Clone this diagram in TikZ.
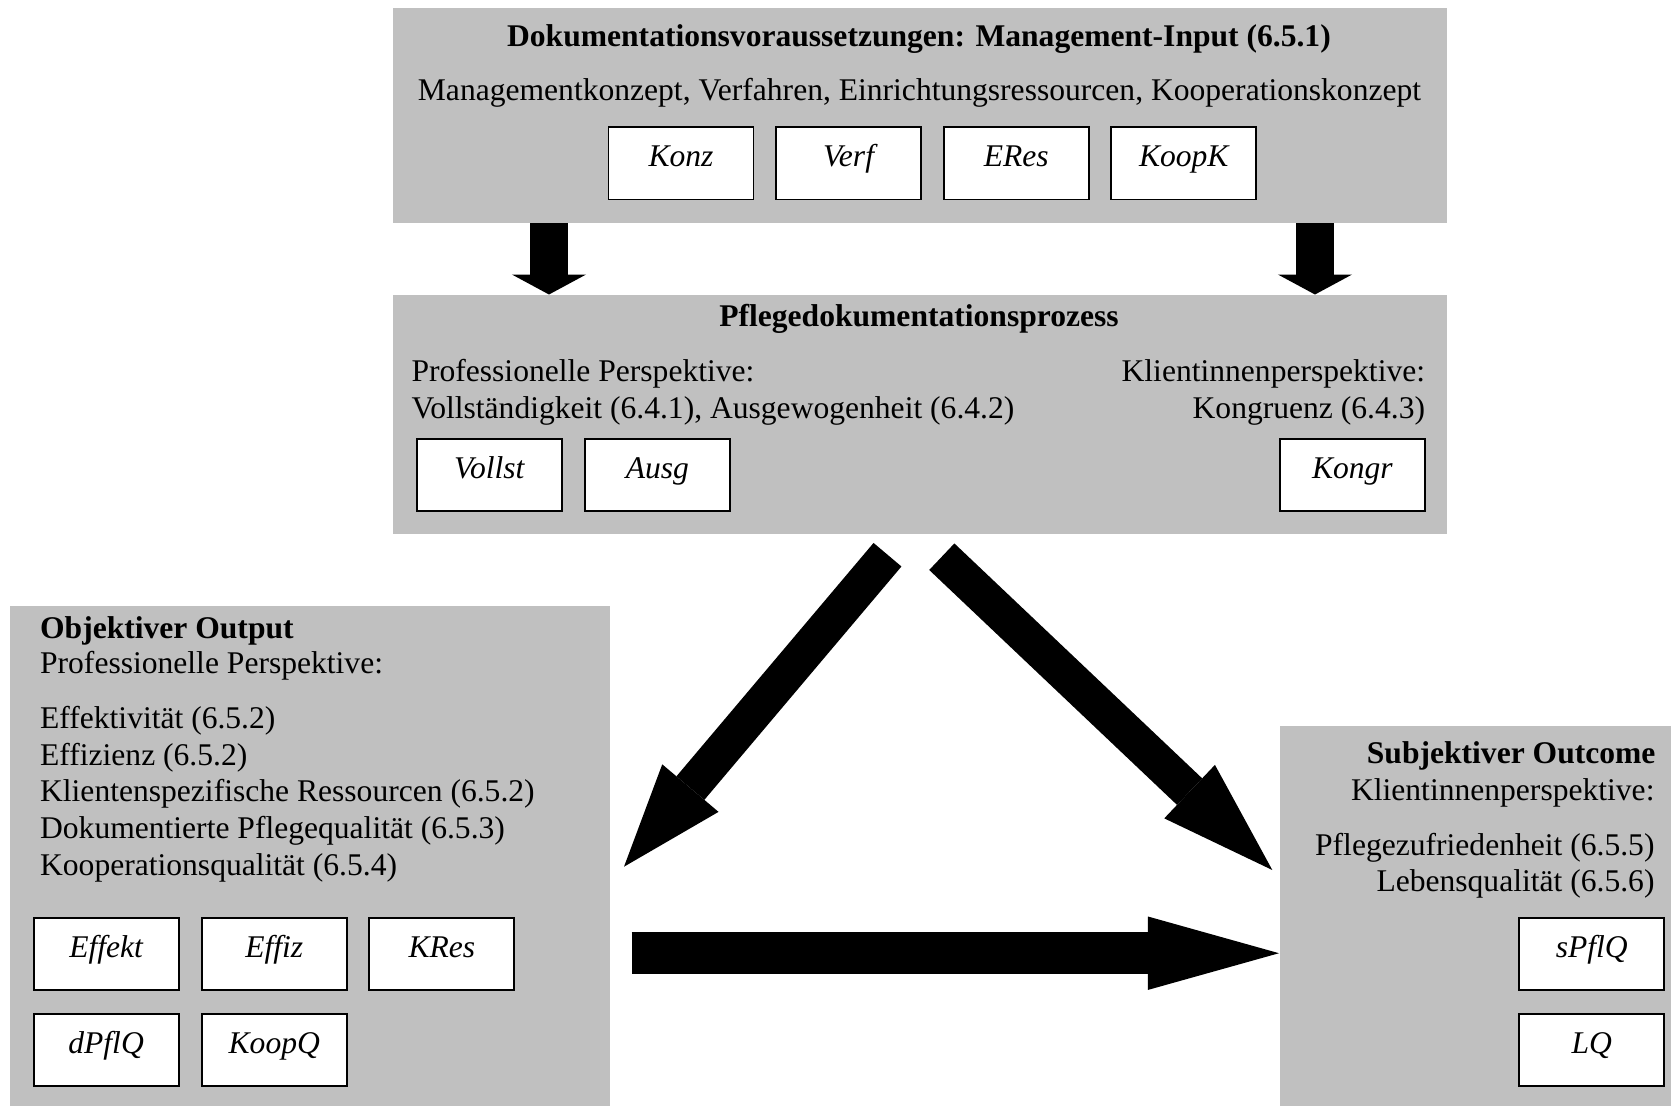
\documentclass[tikz,border=0pt]{standalone}
\usepackage{fontspec}
\setmainfont{Liberation Serif}
\usetikzlibrary{arrows.meta}
\definecolor{panelgray}{RGB}{192,192,192}
% one drawing unit in points
\newcommand\pxu{0.38pt}
\newcommand\basefont{\fontsize{12pt}{13.8pt}\selectfont}

\begin{document}
\begin{tikzpicture}[x=0.38pt, y=-0.38pt,
  panel/.style={fill=panelgray, draw=none, anchor=north west, inner sep=0pt},
  tag/.style={draw=black, fill=white, line width=0.75pt, anchor=north west,
    minimum width=145*\pxu, minimum height=72.5*\pxu, inner sep=0pt,
    text height=8.5pt, text depth=6pt, font=\basefont\itshape},
  heading/.style={inner sep=0pt, font=\basefont\bfseries},
  plain/.style={inner sep=0pt, font=\basefont},
  fatarrow/.style n args={3}{line width=#1, draw=black,
    -{Triangle[length=#2, width=#3, line width=0pt]}}
]
\useasboundingbox (0,0) rectangle (1671,1105);

% ---- management input ----
\node[panel, minimum width=1054*\pxu, minimum height=214.8*\pxu] (input) at (392,7.5) {};
\node[heading, anchor=base] (inputtitle) at (919,46.7)
  {Dokumentationsvoraussetzungen: Management-Input (6.5.1)};
\node[plain, anchor=base] (inputlist) at (919.5,100)
  {Managementkonzept, Verfahren, Einrichtungsressourcen, Kooperationskonzept};
\node[tag] (konz)  at (607.5,126) {Konz};
\node[tag] (verf)  at (775.1,126) {Verf};
\node[tag] (eres)  at (942.7,126) {ERes};
\node[tag] (koopk) at (1110.3,126) {KoopK};

% ---- documentation process ----
\node[panel, minimum width=1054*\pxu, minimum height=238.8*\pxu] (process) at (392,294.5) {};
\node[heading, anchor=base] (processtitle) at (919,326.7) {Pflegedokumentationsprozess};
\node[plain, anchor=base west] (procprof) at (411,381.7) {Professionelle Perspektive:};
\node[plain, anchor=base west] (procproflist) at (411,418.3)
  {Vollständigkeit (6.4.1), Ausgewogenheit (6.4.2)};
\node[plain, anchor=base east] (procclient) at (1425.6,381.7) {Klientinnenperspektive:};
\node[plain, anchor=base east] (procclientlist) at (1425.6,418.3) {Kongruenz (6.4.3)};
\node[tag] (vollst) at (415.8,437.7) {Vollst};
\node[tag] (ausg)   at (583.9,437.7) {Ausg};
\node[tag] (kongr)  at (1278.9,437.7) {Kongr};

% ---- objective output ----
\node[panel, minimum width=600*\pxu, minimum height=500*\pxu] (output) at (9,605) {};
\node[heading, anchor=base west] (outputtitle) at (39.6,638.3) {Objektiver Output};
\node[plain, anchor=base west] (outputprof) at (39.6,673.3) {Professionelle Perspektive:};
\node[plain, anchor=base west] (outa) at (39.6,728.3) {Effektivität (6.5.2)};
\node[plain, anchor=base west] (outb) at (39.6,765.0) {Effizienz (6.5.2)};
\node[plain, anchor=base west] (outc) at (39.6,801.7) {Klientenspezifische Ressourcen (6.5.2)};
\node[plain, anchor=base west] (outd) at (39.6,838.3) {Dokumentierte Pflegequalität (6.5.3)};
\node[plain, anchor=base west] (oute) at (39.6,875.0) {Kooperationsqualität (6.5.4)};
\node[tag] (effekt) at (32.6,916.7) {Effekt};
\node[tag] (effiz)  at (200.8,916.7) {Effiz};
\node[tag] (kres)   at (368.4,916.7) {KRes};
\node[tag] (dpflq)  at (32.6,1012.7) {dPflQ};
\node[tag] (koopq)  at (200.8,1012.7) {KoopQ};

% ---- subjective outcome ----
\node[panel, minimum width=392*\pxu, minimum height=380*\pxu] (outcome) at (1279,725) {};
\node[heading, anchor=base east] (outcometitle) at (1656,763.3) {Subjektiver Outcome};
\node[plain, anchor=base east] (outcomeclient) at (1655,800) {Klientinnenperspektive:};
\node[plain, anchor=base east] (outcomea) at (1655,855) {Pflegezufriedenheit (6.5.5)};
\node[plain, anchor=base east] (outcomeb) at (1655,891.7) {Lebensqualität (6.5.6)};
\node[tag] (spflq) at (1518.3,916.7) {sPflQ};
\node[tag] (lq)    at (1518.3,1012.7) {LQ};

% ---- block arrows ----
\coordinate (downl) at (549,0);
\coordinate (downr) at (1315,0);
\draw[fatarrow={14.17pt}{7.6pt}{28.2pt}] (input.south -| downl) -- (process.north -| downl);
\draw[fatarrow={14.17pt}{7.6pt}{28.2pt}] (input.south -| downr) -- (process.north -| downr);

\coordinate (ltail) at (887.5,554.7);
\coordinate (ltip)  at (624,866.7);
\draw[fatarrow={13.87pt}{39.1pt}{28pt}] (ltail) -- (ltip);

\coordinate (rtail) at (941.8,556.7);
\coordinate (rtip)  at (1272.3,870);
\draw[fatarrow={13.9pt}{43.3pt}{28pt}] (rtail) -- (rtip);

\coordinate (htail) at (631.7,953.2);
\draw[fatarrow={15.85pt}{49.8pt}{27.9pt}] (htail) -- (outcome.west |- htail);
\end{tikzpicture}
\end{document}
